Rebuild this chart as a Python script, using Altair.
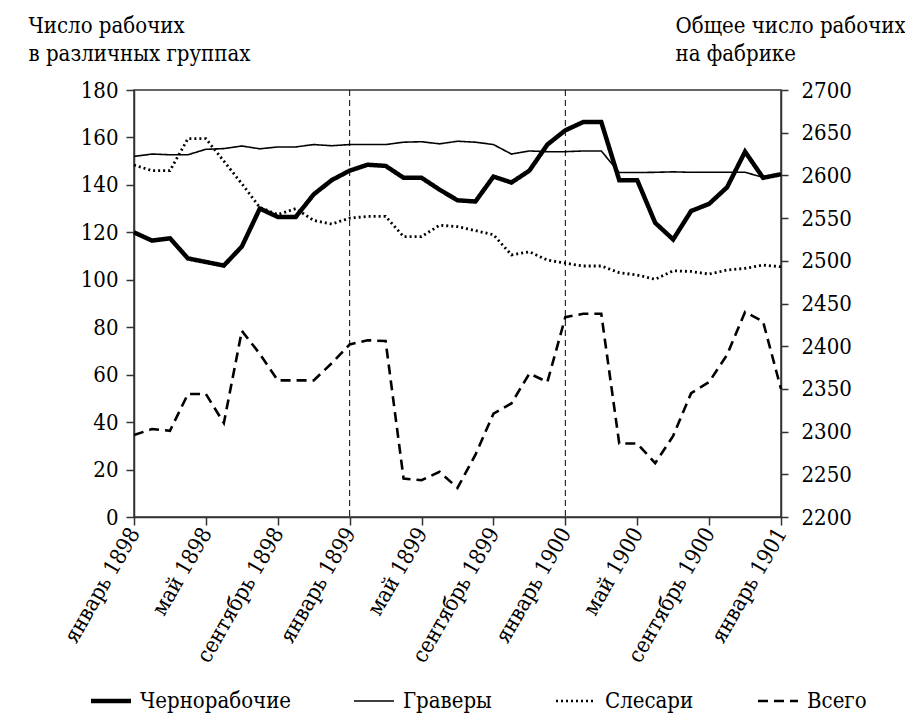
import altair as alt
import pandas as pd

FONT = "DejaVu Serif Condensed, DejaVu Serif, serif"
FS = 22

months = list(range(37))  # январь 1898 ... январь 1901
tick_labels = ["январь 1898", "май 1898", "сентябрь 1898", "январь 1899", "май 1899",
               "сентябрь 1899", "январь 1900", "май 1900", "сентябрь 1900", "январь 1901"]
series_names = ["Чернорабочие", "Граверы", "Слесари", "Всего"]

chernorabochie = [120, 116.5, 117.5, 109, 107.5, 106, 114, 130, 126.5, 126.5, 136, 142,
                  146, 148.5, 148, 143, 143, 138, 133.5, 133, 143.5, 141, 146, 157,
                  163, 166.5, 166.5, 142, 142, 124, 117, 129, 132, 139, 154, 143,
                  144.5]
gravery = [152, 153, 152.7, 152.7, 155, 155.3, 156.4, 155.2, 156, 156, 157, 156.5,
           157, 157, 157, 158, 158.2, 157.3, 158.4, 158, 157, 153, 154.3, 154,
           154, 154.3, 154.3, 145.2, 145.2, 145.3, 145.5, 145.3, 145.3, 145.3, 145.3, 143.2,
           144.5]
slesari = [148.4, 146, 146, 159.5, 159.5, 150, 140.5, 130.5, 127.5, 130, 125, 123.5,
           126, 126.7, 126.7, 118.2, 118.2, 123, 122.4, 120.7, 119, 110.5, 111.8, 108.3,
           107, 105.8, 105.8, 103, 102, 100.2, 103.8, 103.5, 102.4, 104.1, 104.8, 106.2,
           105.5]
vsego = [2296, 2303, 2301, 2344, 2344, 2310, 2418, 2391, 2360, 2360, 2360, 2380,
         2402, 2407, 2406, 2245, 2243, 2253, 2234, 2273, 2321, 2333, 2368, 2358,
         2434, 2438, 2438, 2286, 2286, 2263, 2295, 2345, 2358, 2390, 2440, 2429,
         2350]
year_marks = [12, 24]

rows = []
for name, vals in zip(series_names[:3], [chernorabochie, gravery, slesari]):
    for m, v in zip(months, vals):
        rows.append({"m": m, "series": name, "v": v})
groups = pd.DataFrame(rows)
total = pd.DataFrame({"m": months, "series": "Всего", "v": vsego})
marks = pd.DataFrame({"m": year_marks})

label_expr = "[" + ",".join("'" + t + "'" for t in tick_labels) + "][round(datum.value / 4)]"

x = alt.X("m:Q",
          scale=alt.Scale(domain=[0, 36], nice=False, zero=False),
          axis=alt.Axis(values=list(range(0, 37, 4)), labelExpr=label_expr,
                        labelAngle=-60, labelAlign="right", labelBaseline="middle",
                        labelOverlap=False, labelPadding=4, title=None, grid=False,
                        tickSize=8))

dash_scale = alt.Scale(domain=series_names, range=[[1, 0], [1, 0], [2, 3], [10, 6]])
legend = alt.Legend(
    title=None, orient="none", legendX=-34, legendY=600, direction="horizontal",
    symbolType="stroke", symbolSize=1600, symbolStrokeColor="black",
    symbolStrokeWidth={"expr": "datum.value == 'Чернорабочие' ? 4.5 : datum.value == 'Граверы' ? 1.6 : 2.6"},
    labelFont=FONT, labelFontSize=FS, labelColor="black", labelLimit=300,
    columnPadding=58, labelOffset=18)

rules = alt.Chart(marks).mark_rule(color="black", strokeWidth=1, strokeDash=[6, 4]).encode(x=x)

lines = alt.Chart(groups).transform_calculate(
    w="datum.series == 'Чернорабочие' ? 4.5 : datum.series == 'Граверы' ? 1.6 : 2.8"
).mark_line(color="black", strokeJoin="miter").encode(
    x=x,
    y=alt.Y("v:Q", scale=alt.Scale(domain=[0, 180], nice=False),
            axis=alt.Axis(orient="left", values=list(range(0, 181, 20)),
                          title=["Число рабочих", "в различных группах"],
                          titleAngle=0, titleAlign="left", titleBaseline="alphabetic",
                          titleX=-106, titleY=-58, titleLineHeight=28,
                          labelPadding=8, grid=False, tickSize=8)),
    strokeDash=alt.StrokeDash("series:N", scale=dash_scale, legend=legend),
    strokeWidth=alt.StrokeWidth("w:Q", scale=None, legend=None),
    detail="series:N",
)

total_line = alt.Chart(total).mark_line(color="black", strokeWidth=2.6, strokeJoin="miter").encode(
    x=x,
    y=alt.Y("v:Q", scale=alt.Scale(domain=[2200, 2700], nice=False, zero=False),
            axis=alt.Axis(orient="right", values=list(range(2200, 2701, 50)), format="d",
                          title=["Общее число рабочих", "на фабрике"],
                          titleAngle=0, titleAlign="left", titleBaseline="alphabetic",
                          titleX=-106, titleY=-58, titleLineHeight=28,
                          labelPadding=13, grid=False, tickSize=7)),
    strokeDash=alt.StrokeDash("series:N", scale=dash_scale, legend=legend),
)

chart = alt.layer(rules, lines, total_line).resolve_scale(y="independent").properties(
    width=647, height=427,
    autosize=alt.AutoSizeParams(type="none"),
    padding={"left": 126, "top": 82, "right": 124, "bottom": 210},
    background="white",
).configure_view(
    stroke="#333", strokeWidth=1.5
).configure_axis(
    labelFont=FONT, labelFontSize=FS, labelColor="black",
    titleFont=FONT, titleFontSize=FS, titleColor="black", titleFontWeight="normal",
    domainColor="#333", domainWidth=1.5, tickColor="#333", tickWidth=1.5,
)

chart.save("out.html", embed_options={"renderer": "svg", "actions": False})
